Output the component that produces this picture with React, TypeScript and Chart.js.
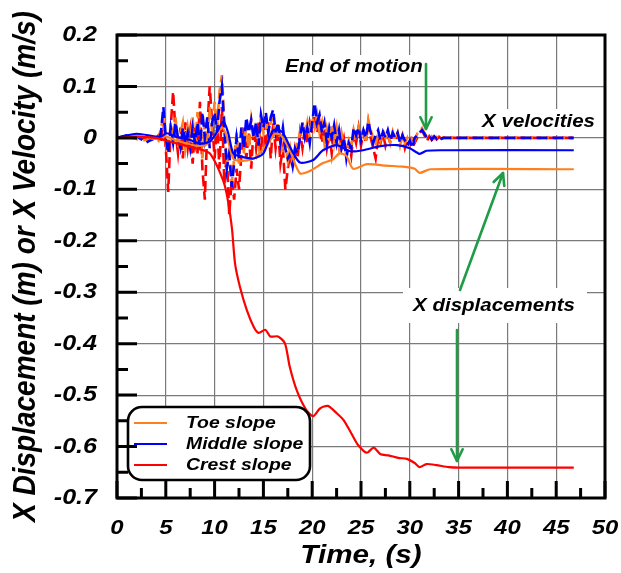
import React, { useEffect, useRef } from 'react';
import { Chart, registerables } from 'chart.js';
Chart.register(...registerables);

// ---------- data ----------
const X_TICKS = [0, 5, 10, 15, 20, 25, 30, 35, 40, 45, 50];
const X_TICK_LABELS = ['0', '5', '10', '15', '20', '25', '30', '35', '40', '45', '50'];
const Y_TICKS = [0.2, 0.1, 0, -0.1, -0.2, -0.3, -0.4, -0.5, -0.6, -0.7];
const Y_TICK_LABELS = ['0.2', '0.1', '0', '-0.1', '-0.2', '-0.3', '-0.4', '-0.5', '-0.6', '-0.7'];

const SERIES = ['Toe slope', 'Middle slope', 'Crest slope'];
const COLORS = ['#ff7f1e', '#0000ff', '#ff0000'];

// X displacements (solid)
const TOE_DISP_T = [0, 2, 4, 5, 6, 7, 8, 9, 10, 10.8, 11.3, 11.9, 12.6, 14, 14.6, 15.5, 16.2, 16.8, 17.7, 18.75, 19.8, 21.1, 22.1, 22.8, 23.5, 24.2, 25.6, 27.6, 29.3, 30.5, 31, 32.1, 46.8];
const TOE_DISP = [0, 0.004, -0.002, 0.003, -0.005, -0.01, -0.015, -0.015, 0.003, 0.02, 0.0, -0.04, -0.045, -0.04, -0.03, -0.01, 0.008, 0.005, -0.024, -0.069, -0.064, -0.049, -0.042, -0.03, -0.035, -0.06, -0.051, -0.054, -0.056, -0.06, -0.068, -0.061, -0.061];

const MID_DISP_T = [0, 2, 4.4, 5.1, 6.1, 7.5, 8.5, 9.5, 10.2, 10.9, 11.4, 11.9, 12.6, 14, 15, 16, 16.9, 17.9, 18.75, 20.1, 21.1, 22.5, 23.9, 25.2, 27, 28.7, 30, 31, 31.7, 33.4, 46.8];
const MID_DISP = [0, 0.008, 0.002, 0.009, 0.002, -0.004, -0.011, -0.007, 0.01, 0.032, 0.009, -0.03, -0.036, -0.04, -0.03, 0.015, 0.012, -0.024, -0.048, -0.043, -0.024, -0.014, -0.026, -0.024, -0.016, -0.014, -0.02, -0.031, -0.025, -0.024, -0.024];

const CREST_DISP_T = [0, 2, 4, 5, 6, 7, 8, 9, 9.5, 10, 10.5, 11, 11.3, 11.6, 11.8, 12.1, 12.6, 13.3, 14, 14.5, 15.2, 15.7, 16.5, 17.2, 17.7, 18.4, 19.3, 20.1, 20.8, 21.6, 22.5, 23.2, 24, 24.7, 25.6, 26.3, 27, 27.8, 28.8, 29.7, 30.5, 31, 31.7, 32.7, 34, 35, 46.8];
const CREST_DISP = [0, 0.002, 0, -0.005, -0.01, -0.015, -0.02, -0.025, -0.03, -0.045, -0.065, -0.09, -0.115, -0.15, -0.18, -0.245, -0.29, -0.335, -0.367, -0.379, -0.373, -0.386, -0.386, -0.399, -0.445, -0.49, -0.526, -0.541, -0.526, -0.521, -0.535, -0.548, -0.574, -0.597, -0.612, -0.602, -0.615, -0.617, -0.622, -0.624, -0.632, -0.64, -0.634, -0.636, -0.64, -0.641, -0.641];

// X velocities (dashed), shared time base
const VEL_T = [
  0, 1, 2, 2.5, 3, 3.5,
  4, 4.25, 4.5, 4.75, 5, 5.25, 5.5, 5.75, 6, 6.25, 6.5, 6.75, 7, 7.25, 7.5, 7.75, 8, 8.25, 8.5, 8.75, 9, 9.25, 9.5, 9.75,
  10, 10.25, 10.5, 10.75, 11, 11.25, 11.5, 11.75, 12, 12.25, 12.5, 12.75, 13, 13.25, 13.5, 13.75, 14, 14.25, 14.5, 14.75, 15, 15.25, 15.5, 15.75,
  16, 16.25, 16.5, 16.75, 17, 17.25, 17.5, 17.75, 18, 18.25, 18.5, 18.75, 19, 19.25, 19.5, 19.75, 20, 20.25, 20.5, 20.75, 21, 21.25, 21.5, 21.75,
  22, 22.25, 22.5, 22.75, 23, 23.25, 23.5, 23.75, 24, 24.25, 24.5, 24.75, 25, 25.25, 25.5, 25.75, 26, 26.25, 26.5, 26.75, 27, 27.25, 27.5, 27.75,
  28, 28.25, 28.5, 28.75, 29, 29.25, 29.5, 29.75, 30, 30.25, 30.5, 30.75, 31, 31.25, 31.5, 31.75, 32, 32.25, 32.5, 32.75, 33, 33.25, 33.5, 33.75,
  35, 40, 46.8,
];
const TOE_VEL = [
  0, 0.004, -0.002, -0.005, -0.004, 0.0,
  0, -0.005, 0.02, 0.04, -0.01, -0.03, 0.03, 0.0, 0.04, -0.02, 0.01, 0.03, -0.02, 0.02, -0.01, 0.04, -0.02, 0.05, 0.01, -0.04, 0.03, -0.01, 0.06, 0.01,
  0.07, 0.02, 0.09, 0.122, 0.03, -0.05, -0.02, -0.09, -0.04, 0.01, -0.05, 0.02, -0.03, 0.03, -0.02, 0.035, 0.0, 0.03, -0.01, 0.04, 0.01, 0.045, 0.0, 0.03,
  0.04, 0.0, 0.03, -0.01, -0.03, -0.01, -0.045, -0.02, -0.05, -0.02, -0.01, 0.01, 0.03, 0.005, 0.03, 0.0, 0.04, 0.02, 0.045, 0.01, 0.03, -0.01, 0.02, 0.0,
  0.025, -0.01, 0.02, -0.02, 0.01, -0.015, -0.03, -0.005, -0.02, 0.015, -0.005, 0.02, 0.0, 0.02, -0.01, 0.035, 0.015, 0.0, -0.015, 0.01, -0.005, 0.015, 0.0, 0.01,
  -0.01, 0.012, -0.005, 0.01, -0.015, 0.005, -0.01, 0.0, -0.015, 0.005, -0.005, 0.008, 0.012, 0.019, 0.01, 0.002, -0.003, 0.003, -0.002, 0.002, -0.002, 0.001, 0, 0,
  0, 0, 0,
];
const MID_VEL = [
  0, 0.005, 0.004, -0.003, -0.009, -0.004,
  0.0, -0.005, 0.01, 0.06, 0.0, -0.03, 0.02, -0.01, 0.03, 0.0, -0.02, 0.02, -0.01, 0.01, -0.02, 0.02, -0.01, 0.03, -0.02, 0.05, 0.0, 0.04, -0.02, 0.03,
  0.05, 0.01, 0.07, 0.1, 0.02, -0.06, -0.03, -0.095, -0.05, 0.0, -0.04, 0.02, -0.02, 0.04, 0.01, 0.035, 0.0, 0.03, -0.015, 0.045, 0.02, 0.05, 0.01, 0.04,
  0.055, 0.01, 0.03, -0.01, 0.02, -0.02, -0.04, -0.03, -0.055, -0.02, -0.03, 0.0, 0.03, 0.0, 0.02, -0.01, 0.03, 0.068, 0.03, 0.045, 0.01, 0.03, -0.01, 0.02,
  0.0, 0.025, -0.01, 0.015, -0.02, 0.0, -0.04, -0.01, -0.02, 0.02, 0.005, 0.02, -0.005, 0.015, 0.0, 0.032, 0.01, -0.01, 0.005, 0.015, -0.005, 0.012, 0.0, 0.015,
  -0.005, 0.01, 0.0, 0.01, -0.01, 0.005, -0.005, -0.015, -0.005, -0.02, 0.0, 0.005, 0.01, 0.015, 0.008, 0.0, 0.004, -0.003, 0.003, -0.002, 0.002, -0.001, 0, 0,
  0, 0, 0,
];
const CREST_VEL = [
  0, 0.003, 0.002, -0.002, 0.0, -0.003,
  0.0, 0.005, -0.01, 0.03, -0.02, -0.105, 0.02, 0.09, 0.01, -0.03, 0.02, -0.04, 0.03, -0.02, 0.015, -0.05, 0.02, -0.03, 0.07, -0.06, -0.12, 0.02, 0.1, 0.03,
  -0.04, 0.03, -0.06, 0.06, -0.09, -0.03, -0.15, -0.08, -0.12, -0.06, -0.1, -0.03, 0.02, -0.04, 0.01, -0.06, 0.02, -0.02, 0.03, -0.03, 0.04, -0.02, 0.03, -0.04,
  0.03, -0.02, 0.02, -0.05, -0.02, -0.1, -0.06, -0.03, -0.06, -0.02, -0.04, 0.01, -0.02, 0.02, -0.01, 0.03, 0.01, 0.045, 0.01, 0.03, -0.01, 0.02, -0.02, 0.01,
  -0.03, 0.015, -0.01, 0.02, -0.02, 0.0, -0.03, -0.01, -0.035, 0.01, -0.01, 0.02, -0.015, 0.01, -0.01, 0.03, 0.0, -0.02, -0.04, 0.0, -0.01, 0.01, -0.015, 0.005,
  -0.01, 0.01, -0.005, 0.008, -0.01, 0.005, -0.02, -0.005, -0.015, 0.005, -0.01, 0.0, 0.01, 0.015, 0.005, -0.006, 0.003, -0.004, 0.002, -0.003, 0.002, -0.002, 0.001, 0.0,
  0, 0, 0,
];

// ---------- styling helpers ----------
const FONT = '"Liberation Sans", Arial, Helvetica, sans-serif';
const SX = 1.14;
const GREEN = '#1f9c45';

function drawText(ctx: CanvasRenderingContext2D, text: string, x: number, y: number, size: number, align: CanvasTextAlign = 'left', baseline: CanvasTextBaseline = 'middle', sx = SX) {
  ctx.save();
  ctx.font = `italic bold ${size}px ${FONT}`;
  ctx.fillStyle = '#000';
  ctx.textAlign = align;
  ctx.textBaseline = baseline;
  ctx.translate(x, y);
  ctx.scale(sx, 1);
  ctx.fillText(text, 0, 0);
  ctx.restore();
}

function drawArrow(ctx: CanvasRenderingContext2D, x1: number, y1: number, x2: number, y2: number) {
  ctx.save();
  ctx.strokeStyle = GREEN;
  ctx.lineWidth = 2.6;
  ctx.lineCap = 'round';
  ctx.lineJoin = 'round';
  ctx.beginPath();
  ctx.moveTo(x1, y1);
  ctx.lineTo(x2, y2);
  ctx.stroke();
  const ang = Math.atan2(y2 - y1, x2 - x1);
  const L = 13, w = 0.45;
  ctx.beginPath();
  ctx.moveTo(x2 - L * Math.cos(ang - w), y2 - L * Math.sin(ang - w));
  ctx.lineTo(x2, y2);
  ctx.lineTo(x2 - L * Math.cos(ang + w), y2 - L * Math.sin(ang + w));
  ctx.stroke();
  ctx.restore();
}

function roundRect(ctx: CanvasRenderingContext2D, x: number, y: number, w: number, h: number, r: number) {
  ctx.beginPath();
  ctx.moveTo(x + r, y);
  ctx.lineTo(x + w - r, y);
  ctx.arcTo(x + w, y, x + w, y + r, r);
  ctx.lineTo(x + w, y + h - r);
  ctx.arcTo(x + w, y + h, x + w - r, y + h, r);
  ctx.lineTo(x + r, y + h);
  ctx.arcTo(x, y + h, x, y + h - r, r);
  ctx.lineTo(x, y + r);
  ctx.arcTo(x, y, x + r, y, r);
  ctx.closePath();
}

const decorPlugin = {
  id: 'decor',
  beforeDatasetsDraw(chart: any) {
    const ctx = chart.ctx as CanvasRenderingContext2D;
    ctx.save();
    ctx.fillStyle = '#fff';
    ctx.fillRect(280, 55, 143, 26);
    ctx.fillRect(478, 109, 122, 26);
    ctx.fillRect(403, 288, 184, 35);
    ctx.restore();
  },
  afterDatasetsDraw(chart: any) {
    const ctx = chart.ctx as CanvasRenderingContext2D;
    const a = chart.chartArea;
    const xs = chart.scales.x;
    const ys = chart.scales.y;

    // annotations
    drawText(ctx, 'End of motion', 285, 67, 18, 'left');
    drawArrow(ctx, 426, 64, 426, 129);
    drawText(ctx, 'X velocities', 595, 122, 18, 'right');
    drawText(ctx, 'X displacements', 494, 306, 18, 'center');
    drawArrow(ctx, 460, 290, 503, 173);
    drawArrow(ctx, 457, 330, 457, 461);

    // legend
    ctx.save();
    roundRect(ctx, 128, 407, 182, 73, 14);
    ctx.fillStyle = '#fff';
    ctx.fill();
    ctx.lineWidth = 2.6;
    ctx.strokeStyle = '#000';
    ctx.stroke();
    ctx.restore();
    const rows = [423, 444, 465];
    SERIES.forEach((name, i) => {
      ctx.save();
      ctx.strokeStyle = COLORS[i];
      ctx.lineWidth = 2;
      ctx.beginPath();
      ctx.moveTo(134, rows[i]);
      ctx.lineTo(167, rows[i]);
      ctx.stroke();
      ctx.restore();
      drawText(ctx, name, 186, rows[i], 17, 'left');
    });

    // frame
    ctx.save();
    ctx.strokeStyle = '#000';
    ctx.lineWidth = 3;
    ctx.strokeRect(a.left, a.top, a.right - a.left, a.bottom - a.top);

    // inward ticks
    ctx.lineWidth = 3;
    ctx.beginPath();
    const yt = ys.ticks.map((t: any) => ys.getPixelForValue(t.value));
    yt.forEach((py: number, i: number) => {
      ctx.moveTo(a.left, py);
      ctx.lineTo(a.left + 20, py);
      if (i < yt.length - 1) {
        const m = (py + yt[i + 1]) / 2;
        ctx.moveTo(a.left, m);
        ctx.lineTo(a.left + 11, m);
      }
    });
    const xt = xs.ticks.map((t: any) => xs.getPixelForValue(t.value));
    xt.forEach((px: number, i: number) => {
      ctx.moveTo(px, a.bottom);
      ctx.lineTo(px, a.bottom - 17);
      if (i < xt.length - 1) {
        const m = (px + xt[i + 1]) / 2;
        ctx.moveTo(m, a.bottom);
        ctx.lineTo(m, a.bottom - 10);
      }
    });
    ctx.stroke();
    ctx.restore();

    // tick labels
    ys.ticks.forEach((t: any, i: number) => {
      drawText(ctx, Y_TICK_LABELS[i], 97, ys.getPixelForValue(t.value), 22, 'right');
    });
    xs.ticks.forEach((t: any, i: number) => {
      drawText(ctx, X_TICK_LABELS[i], xs.getPixelForValue(t.value), 528, 21, 'center');
    });

    // axis titles
    drawText(ctx, 'Time, (s)', 361, 556, 26, 'center');
    ctx.save();
    ctx.translate(26, (a.top + a.bottom) / 2);
    ctx.rotate(-Math.PI / 2);
    ctx.scale(1, SX);
    ctx.font = `italic bold 28px ${FONT}`;
    ctx.fillStyle = '#000';
    ctx.textAlign = 'center';
    ctx.textBaseline = 'middle';
    ctx.fillText('X Displacement (m) or X Velocity (m/s)', 0, 0);
    ctx.restore();
  },
};

function pts(ts: number[], vs: number[]) {
  return ts.map((t, i) => ({ x: t, y: vs[i] }));
}

export default function App() {
  const ref = useRef<HTMLCanvasElement | null>(null);
  useEffect(() => {
    if (!ref.current) return;
    const dash = [11, 5];
    const chart = new Chart(ref.current, {
      type: 'line',
      data: {
        datasets: [
          { label: SERIES[2] + ' displacement', data: pts(CREST_DISP_T, CREST_DISP), borderColor: COLORS[2], borderWidth: 2.2, tension: 0.25, order: 0 },
          { label: SERIES[1] + ' displacement', data: pts(MID_DISP_T, MID_DISP), borderColor: COLORS[1], borderWidth: 2.2, tension: 0.25, order: 0 },
          { label: SERIES[0] + ' displacement', data: pts(TOE_DISP_T, TOE_DISP), borderColor: COLORS[0], borderWidth: 2.2, tension: 0.25, order: 0 },
          { label: SERIES[1] + ' velocity', data: pts(VEL_T, MID_VEL), borderColor: COLORS[1], borderWidth: 2.6, borderDash: dash, borderDashOffset: 0, order: 1 },
          { label: SERIES[0] + ' velocity', data: pts(VEL_T, TOE_VEL), borderColor: COLORS[0], borderWidth: 2.6, borderDash: dash, borderDashOffset: 5, order: 2 },
          { label: SERIES[2] + ' velocity', data: pts(VEL_T, CREST_VEL), borderColor: COLORS[2], borderWidth: 2.6, borderDash: dash, borderDashOffset: 10, order: 3 },
        ] as any,
      },
      options: {
        animation: false,
        responsive: false,
        devicePixelRatio: 1,
        elements: { point: { radius: 0 }, line: { fill: false } },
        layout: { padding: { left: 117, right: 16, top: 35, bottom: 75 } },
        plugins: { legend: { display: false }, tooltip: { enabled: false } },
        scales: {
          x: {
            type: 'linear',
            min: 0,
            max: 50,
            afterBuildTicks: (s: any) => { s.ticks = X_TICKS.map((v) => ({ value: v })); },
            afterFit: (s: any) => { s.height = 0; },
            ticks: { display: false },
            grid: { color: '#7a7a7a', lineWidth: 1.2, drawTicks: false },
            border: { display: false },
          },
          y: {
            type: 'linear',
            min: -0.7,
            max: 0.2,
            afterBuildTicks: (s: any) => { s.ticks = Y_TICKS.map((v) => ({ value: v })); },
            afterFit: (s: any) => { s.width = 0; },
            ticks: { display: false },
            grid: { color: '#7a7a7a', lineWidth: 1.2, drawTicks: false },
            border: { display: false },
          },
        },
      } as any,
      plugins: [decorPlugin],
    });
    return () => chart.destroy();
  }, []);
  return (
    <div style={{ position: 'absolute', left: 0, top: 0, width: 621, height: 573, background: '#fff' }}>
      <canvas ref={ref} width={621} height={573} />
    </div>
  );
}
